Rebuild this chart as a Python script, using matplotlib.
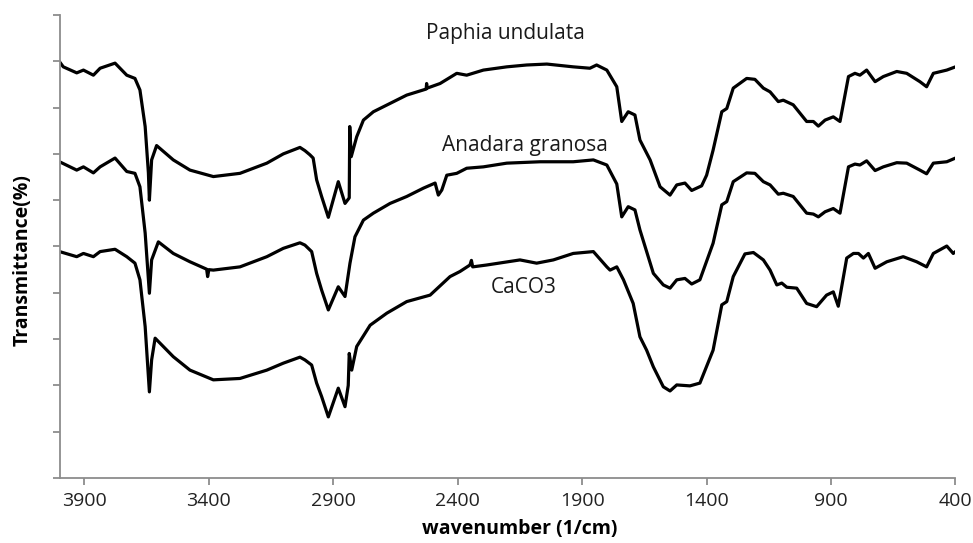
import numpy as np
import matplotlib
matplotlib.use("Agg")
import matplotlib.pyplot as plt

plt.rcParams['font.family'] = ['Open Sans', 'DejaVu Sans']

# Paphia undulata (top trace)
paphia_wn = [4000, 3985, 3931, 3904, 3864, 3837, 3777, 3730, 3697, 3677, 3656, 3643, 3639, 3630,
             3610, 3543, 3476, 3382, 3275, 3167, 3101, 3034, 3014, 2994, 2981, 2967, 2947, 2920,
             2880, 2853, 2836, 2834, 2828, 2806, 2779, 2739, 2672, 2605, 2527, 2525, 2523, 2471,
             2404, 2364, 2297, 2203, 2123, 2042, 1936, 1869, 1842, 1801, 1761, 1741, 1715, 1688,
             1668, 1627, 1587, 1547, 1520, 1487, 1460, 1420, 1400, 1374, 1339, 1319, 1293, 1239,
             1206, 1172, 1145, 1112, 1092, 1052, 998, 971, 951, 924, 891, 864, 830, 804, 784, 757,
             723, 690, 636, 596, 543, 516, 489, 435, 400]
paphia_t = [89.9, 88.8, 87.5, 88.1, 87.0, 88.5, 89.6, 87.0, 86.3, 83.8, 75.9, 65.9, 60.0, 68.7,
            71.8, 68.7, 66.5, 65.1, 65.8, 68.0, 70.0, 71.4, 70.7, 69.8, 69.1, 64.4, 60.8, 56.3,
            64.0, 59.3, 60.5, 75.9, 69.4, 73.7, 77.3, 79.1, 80.9, 82.7, 84.0, 85.2, 84.2, 85.2,
            87.4, 87.0, 88.1, 88.8, 89.2, 89.4, 88.8, 88.5, 89.2, 88.1, 84.5, 77.0, 79.1, 78.4,
            73.0, 68.7, 62.9, 61.1, 63.3, 63.7, 62.1, 63.1, 65.4, 70.8, 79.1, 79.8, 84.2, 86.3,
            86.1, 84.2, 83.4, 81.3, 81.6, 80.6, 77.0, 77.0, 76.0, 77.3, 78.0, 77.0, 86.7, 87.4, 87.0, 88.1,
            85.6, 86.7, 87.8, 87.4, 85.6, 84.5, 87.4, 88.1, 88.8]

# Anadara granosa (middle trace)
anadara_wn = [4000, 3931, 3904, 3864, 3837, 3777, 3730, 3697, 3677, 3656, 3639, 3630, 3603, 3543,
              3476, 3409, 3405, 3400, 3382, 3275, 3167, 3101, 3034, 3014, 2987, 2967, 2947, 2920,
              2880, 2853, 2833, 2813, 2779, 2739, 2672, 2605, 2538, 2491, 2478, 2464, 2444, 2404,
              2364, 2297, 2203, 2069, 1936, 1855, 1801, 1761, 1741, 1715, 1688, 1668, 1614, 1574,
              1547, 1520, 1487, 1460, 1427, 1374, 1339, 1319, 1293, 1239, 1206, 1172, 1145, 1112,
              1092, 1052, 998, 971, 951, 924, 891, 864, 830, 804, 784, 757, 723, 690, 636, 596, 543,
              516, 489, 435, 400]
anadara_t = [68.3, 66.5, 67.2, 65.9, 67.2, 69.1, 66.2, 65.8, 62.9, 52.9, 39.9, 47.1, 51.0, 48.5,
             46.7, 45.1, 43.5, 45.0, 44.9, 45.6, 47.8, 49.6, 50.8, 50.3, 48.9, 44.2, 40.6, 36.3,
             41.3, 39.2, 46.4, 52.1, 55.7, 57.2, 59.3, 60.8, 62.6, 63.7, 61.1, 62.2, 65.4, 65.8,
             66.9, 67.2, 68.0, 68.3, 68.3, 68.7, 67.6, 63.5, 56.4, 58.6, 57.9, 53.6, 44.2, 41.7,
             41.0, 42.8, 43.1, 41.9, 42.8, 50.7, 59.0, 59.7, 64.0, 65.9, 65.8, 64.0, 63.3, 61.3,
             61.5, 60.8, 57.2, 57.0, 56.4, 57.5, 58.2, 57.2, 67.2, 67.8, 67.6, 68.5, 66.4, 67.2, 68.1, 68.0, 66.5,
             65.7, 68.0, 68.3, 69.1]

# CaCO3 (bottom trace)
caco3_wn = [4000, 3931, 3904, 3864, 3837, 3777, 3730, 3697, 3677, 3656, 3639, 3630, 3616, 3543,
            3476, 3382, 3275, 3167, 3101, 3034, 3014, 2987, 2967, 2947, 2920, 2880, 2853, 2840,
            2836, 2826, 2806, 2752, 2685, 2605, 2511, 2431, 2391, 2351, 2345, 2340, 2284, 2150,
            2083, 2016, 1936, 1855, 1801, 1788, 1761, 1734, 1695, 1668, 1641, 1614, 1574, 1547,
            1520, 1467, 1427, 1374, 1339, 1319, 1293, 1246, 1212, 1172, 1145, 1118, 1098, 1078,
            1038, 998, 958, 918, 891, 871, 837, 810, 790, 770, 750, 723, 676, 610, 556, 516, 489,
            435, 409, 400]
caco3_t = [48.9, 47.8, 48.5, 47.8, 48.9, 49.4, 47.8, 46.4, 42.8, 32.7, 18.6, 25.5, 30.2, 26.2,
           23.3, 21.2, 21.5, 23.3, 24.8, 26.1, 25.5, 24.4, 20.5, 17.6, 13.2, 19.4, 15.4, 20.0,
           26.9, 23.3, 28.4, 33.0, 35.6, 38.1, 39.5, 43.5, 44.6, 46.0, 47.0, 45.6, 46.0, 47.1,
           46.4, 47.1, 48.5, 48.9, 45.6, 44.9, 45.6, 42.8, 37.7, 30.5, 27.6, 24.0, 19.7, 18.8,
           20.1, 19.9, 20.5, 27.6, 37.4, 38.1, 43.5, 48.4, 48.7, 47.1, 44.9, 41.7, 42.1, 41.2,
           41.0, 37.7, 37.0, 39.5, 40.2, 37.1, 47.5, 48.5, 48.5, 47.5, 48.5, 45.3, 46.7, 47.8, 46.7, 45.6, 48.5,
           50.1, 48.5, 48.9]

labels = ['Paphia undulata', 'Anadara granosa', 'CaCO3']
label_pos = [(2210, 96.1), (2130, 71.9), (2136, 41.1)]
x_ticks = [3900, 3400, 2900, 2400, 1900, 1400, 900, 400]

fig = plt.figure(figsize=(9.73, 5.43), dpi=100)
ax = fig.add_axes([0.0612, 0.1197, 0.9208, 0.8527])

for wn, t in [(paphia_wn, paphia_t), (anadara_wn, anadara_t), (caco3_wn, caco3_t)]:
    ax.plot(wn, t, color='black', linewidth=2.3, solid_joinstyle='round')

# sample names written on the plot
for lab, (x, y) in zip(labels, label_pos):
    ax.text(x, y, lab, ha='center', va='center', fontsize=15, color='#1a1a1a')

ax.set_xlim(4000, 400)
ax.set_ylim(0, 100)
ax.set_xticks(x_ticks)
ax.set_xticklabels([str(v) for v in x_ticks])
ax.set_yticks(np.arange(0, 101, 10))
ax.set_yticklabels([])

for s in ['top', 'right']:
    ax.spines[s].set_visible(False)
for s in ['left', 'bottom']:
    ax.spines[s].set_color('#8c8c8c')
    ax.spines[s].set_linewidth(1.3)
ax.tick_params(direction='out', length=5, width=1.3, color='#8c8c8c',
               labelsize=14, labelcolor='#222222', pad=5)

ax.set_xlabel('wavenumber (1/cm)', fontsize=14, fontweight='bold')
ax.set_ylabel('Transmittance(%)', fontsize=14, fontweight='bold')
ax.xaxis.set_label_coords(0.514, -0.088)
ax.yaxis.set_label_coords(-0.030, 0.47)

fig.savefig('out.png', dpi=100)
